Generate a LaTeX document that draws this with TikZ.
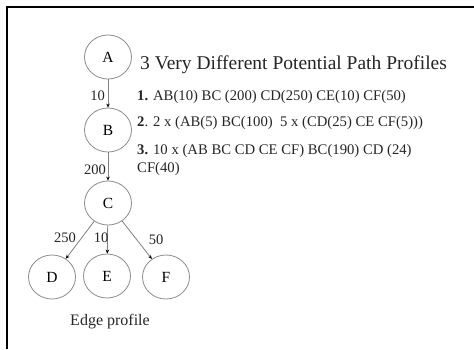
\documentclass[tikz,border=0pt]{standalone}
\usepackage{fontspec}
\setmainfont{Liberation Serif}
\usetikzlibrary{arrows.meta,shapes.geometric}
\begin{document}
\begin{tikzpicture}[x=1pt,y=-1pt,
  vert/.style={ellipse,draw=black!45,line width=0.8pt,minimum width=47pt,minimum height=44pt,inner sep=0pt,font=\fontsize{15.5}{15.5}\selectfont},
  edge/.style={draw=black!50,line width=0.8pt,-{Stealth[length=4pt,width=3.5pt,black]}},
  elabel/.style={font=\fontsize{14.5}{14.5}\selectfont,inner sep=0pt,text=black!85},
  txt/.style={anchor=base west,inner sep=0pt,font=\fontsize{14.7}{14.7}\selectfont,text=black!85}]
\useasboundingbox (0,0) rectangle (474,349);
\fill[white] (0,0) rectangle (474,349);
\draw[line width=2.5pt] (474,7) -- (7,7) -- (7,349);
% nodes
\node[vert] (A) at (108,57) {A};
\node[vert] (B) at (108,130) {B};
\node[vert] (C) at (108,203) {C};
\node[vert] (D) at (52,277) {D};
\node[vert] (E) at (107,276) {E};
\node[vert] (F) at (166,277) {F};
% edges
\draw[edge] (A) -- (B);
\draw[edge] (B) -- (C);
\draw[edge] (C) -- (D);
\draw[edge] (C) -- (E);
\draw[edge] (C) -- (F);
% edge labels
\node[elabel,anchor=east] (l1) at (105,96) {10};
\node[elabel,anchor=east] (l2) at (106,170) {200};
\node[elabel] (l3) at (65,238) {250};
\node[elabel] (l4) at (101,238) {10};
\node[elabel] (l5) at (156,240) {50};
% text
\node[txt,font=\fontsize{19.5}{19.5}\selectfont] (t0) at (140,69) {3 Very Different Potential Path Profiles};
\node[txt] (t1) at (137,100) {\textbf{1.} AB(10) BC (200) CD(250) CE(10) CF(50)};
\node[txt] (t2) at (137,126) {\textbf{2}. 2 x (AB(5) BC(100)\ \ 5 x (CD(25) CE CF(5)))};
\node[txt] (t3) at (137,154) {\textbf{3.} 10 x (AB BC CD CE CF) BC(190) CD (24)};
\node[txt] (t4) at (137,172) {CF(40)};
\node[elabel,font=\fontsize{16}{16}\selectfont] (cap) at (110,322) {Edge profile};
\end{tikzpicture}
\end{document}
